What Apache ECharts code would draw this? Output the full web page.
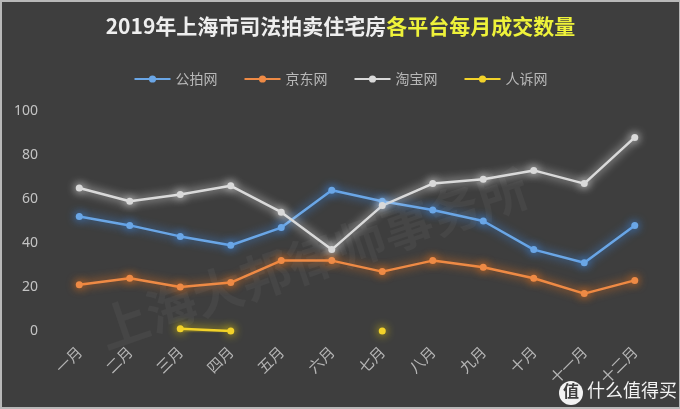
<!DOCTYPE html>
<html>
<head>
<meta charset="utf-8">
<script src="https://cdn.jsdelivr.net/npm/echarts@6/dist/echarts.min.js"></script>
<style>
html,body{margin:0;padding:0;background:#3e3e3e;}
#c{width:680px;height:409px;box-sizing:border-box;border:2px solid #b8b8b8;border-right-width:1px;}
</style>
</head>
<body>
<div id="c"></div>
<script>
const months = ['一月','二月','三月','四月','五月','六月','七月','八月','九月','十月','十一月','十二月'];
const gongpai = [52, 48, 43, 39, 47, 64, 59, 55, 50, 37, 31, 48];
const jingdong = [21, 24, 20, 22, 32, 32, 27, 32, 29, 24, 17, 23];
const taobao = [65, 59, 62, 66, 54, 37, 57, 67, 69, 73, 67, 88];
const rensu = [null, null, 1, 0, null, null, 0, null, null, null, null, null];
const yTicks = [0, 20, 40, 60, 80, 100];

const chart = echarts.init(document.getElementById('c'), null, {renderer: 'canvas'});
function mk(name, data, color, glow) {
  return {
    name: name, type: 'line', data: data, connectNulls: false,
    symbol: 'circle', symbolSize: 7,
    lineStyle: {color: color, width: 2.5, shadowColor: glow, shadowBlur: 10},
    itemStyle: {color: color, shadowColor: glow, shadowBlur: 10},
    emphasis: {disabled: true}
  };
}
chart.setOption({
  backgroundColor: '#3e3e3e',
  animation: false,
  title: {
    text: '{w|2019年上海市司法拍卖住宅房}{y|各平台每月成交数量}',
    left: 'center', top: 9,
    textStyle: {
      rich: {
        w: {color: '#eeeeee', fontSize: 21, fontWeight: 'bold', fontFamily: 'Noto Sans CJK SC'},
        y: {color: '#eef23a', fontSize: 21, fontWeight: 'bold', fontFamily: 'Noto Sans CJK SC'}
      }
    }
  },
  legend: {
    top: 65, left: 'center', itemWidth: 36, itemHeight: 9, itemGap: 26,
    textStyle: {color: '#b8b8b8', fontSize: 14, fontFamily: 'Noto Sans CJK SC'},
    data: ['公拍网','京东网','淘宝网','人诉网']
  },
  grid: {left: 52, right: 19, top: 109, bottom: 76, containLabel: false},
  xAxis: {
    type: 'category', data: months, boundaryGap: true,
    axisLine: {show: false}, axisTick: {show: false},
    axisLabel: {color: '#b5b5b5', fontSize: 15, rotate: 45, margin: 18, fontFamily: 'Noto Sans CJK SC', interval: 0}
  },
  yAxis: {
    type: 'value', min: 0, max: 100, interval: 20,
    splitLine: {show: false}, axisLine: {show: false}, axisTick: {show: false},
    axisLabel: {color: '#c4c4c4', fontSize: 14, margin: 16, fontFamily: 'Noto Sans',
      formatter: function (v) { return yTicks.indexOf(v) >= 0 ? String(v) : ''; }}
  },
  graphic: [
    {type: 'text', left: 90, top: 160, rotation: 0.33, z: 0,
      style: {text: '上海大邦律师事务所', fill: 'rgba(255,255,255,0.045)', font: 'bold 50px "Noto Sans CJK SC"'}},
    {type: 'circle', shape: {cx: 569, cy: 391, r: 12}, style: {fill: '#f2f2f2'}, zlevel: 2, z: 100},
    {type: 'text', left: 561, top: 381, zlevel: 2, z: 101,
      style: {text: '值', fill: '#3e3e3e', font: 'bold 16px "Noto Sans CJK SC"'}},
    {type: 'text', left: 585, top: 379, zlevel: 2, z: 101,
      style: {text: '什么值得买', fill: '#f2f2f2', font: '18px "Noto Sans CJK SC"'}}
  ],
  series: [
    mk('公拍网', gongpai, '#6aa6e6', '#3d8ff0'),
    mk('京东网', jingdong, '#ee8a45', '#ff7a1a'),
    mk('淘宝网', taobao, '#d9d9d9', '#ffffff'),
    mk('人诉网', rensu, '#f2d22a', '#ffe000')
  ]
});
</script>
</body>
</html>
